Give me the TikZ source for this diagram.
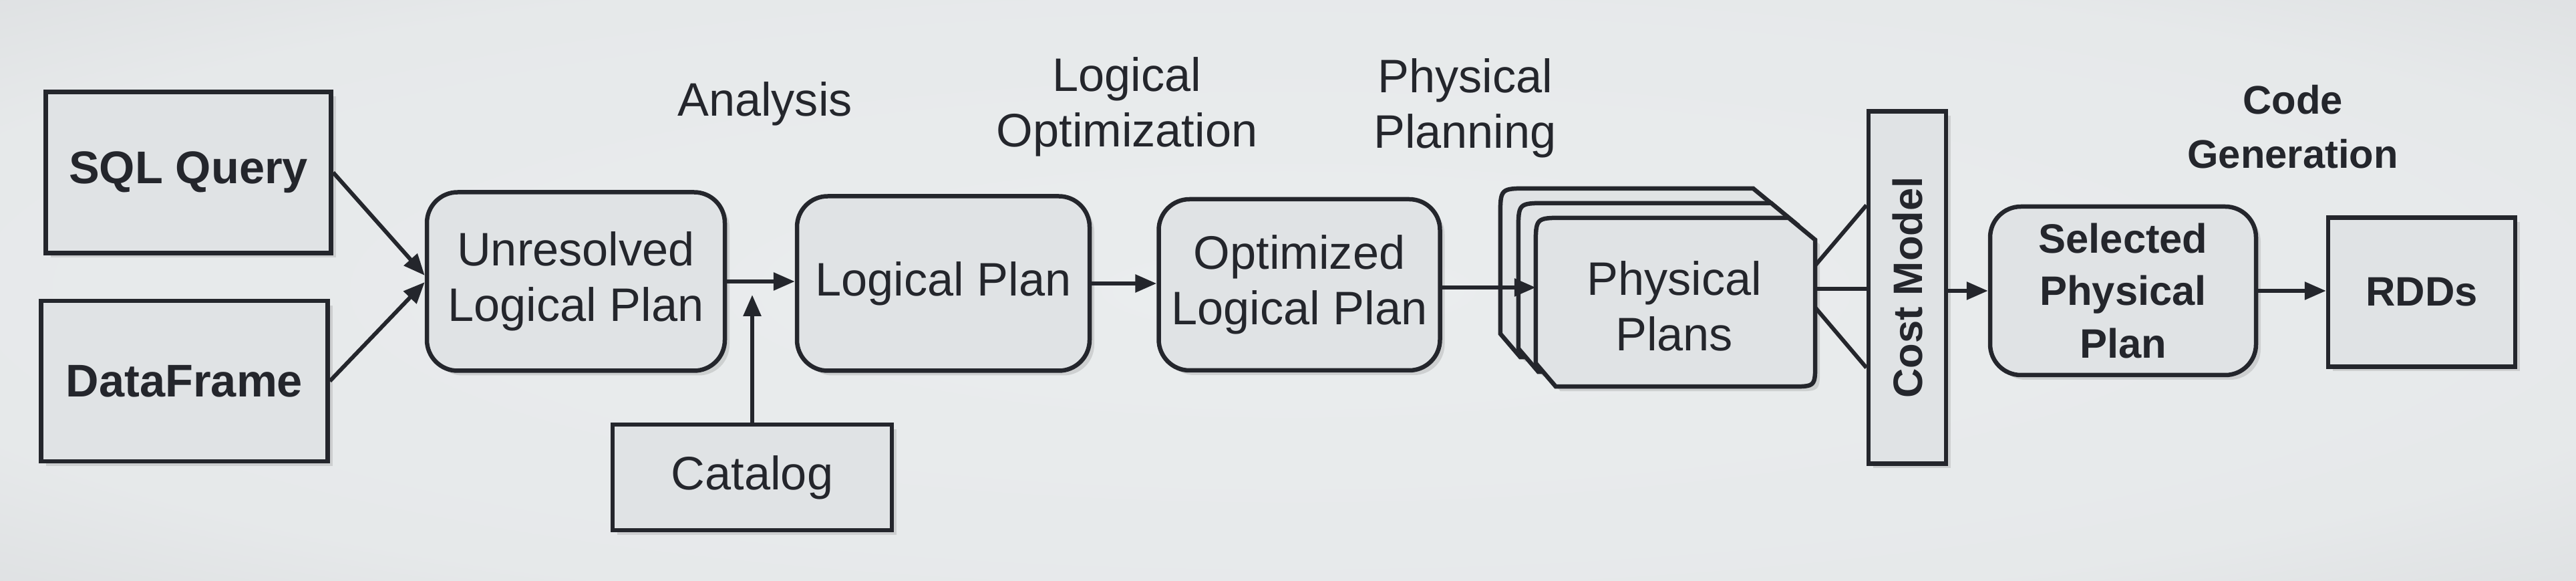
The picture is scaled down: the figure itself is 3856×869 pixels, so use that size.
\documentclass[tikz,border=0pt]{standalone}
\usepackage{fontspec}
\setmainfont{Liberation Sans}
\usetikzlibrary{calc, shadows, arrows.meta}

\definecolor{bgin}{RGB}{234,237,238}
\definecolor{bgout}{RGB}{186,186,190}
\definecolor{boxfill}{RGB}{224,227,229}
\definecolor{ink}{RGB}{36,38,44}
\pgfdeclareradialshading{vignette}{\pgfpoint{0bp}{0bp}}{color(0bp)=(bgin); color(28bp)=(bgin!92!bgout); color(50bp)=(bgin!50!bgout); color(71bp)=(bgout)}

\newcommand{\fsmid}{\fontsize{20}{23.6}\selectfont}
\newcommand{\fsleft}{\fontsize{19.5}{23}\selectfont\bfseries}
\newcommand{\fsright}{\fontsize{17.5}{22.4}\selectfont\bfseries}
\newcommand{\fscode}{\fontsize{17}{23}\selectfont\bfseries}
\newcommand{\stackshape}[1]{%
  \filldraw[stackline] ($(#1.north west)+(0,42)$) .. controls (#1.north west) .. ($(#1.north west)+(42,0)$)
    -- ($(#1.north east)+(-40,0)$) -- ($(#1.north east)+(0,33)$)
    -- ($(#1.south east)+(0,-36)$) .. controls (#1.south east) .. ($(#1.south east)+(-36,0)$)
    -- ($(#1.south west)+(30,0)$) -- ($(#1.south west)+(0,-35)$) -- cycle;}

\begin{document}
\begin{tikzpicture}[x=0.1mm, y=-0.1mm, color=ink,
  shadowed/.style={drop shadow={shadow xshift=0.7mm, shadow yshift=-0.7mm, opacity=0.25}},
  base/.style={draw=ink, fill=boxfill, line width=0.65mm, align=center, inner sep=0pt, shadowed},
  inbox/.style={base, rectangle},
  planbox/.style={base, rectangle, rounded corners=4.6mm},
  stackbox/.style={rectangle, inner sep=0pt, minimum width=41.7mm, minimum height=25.1mm},
  stackline/.style={draw=ink, fill=boxfill, line width=0.65mm, shadowed},
  stagelabel/.style={align=center, font=\fsmid},
  link/.style={draw=ink, line width=0.6mm},
  arr/.style={link, -{Triangle[length=3.2mm, width=2.6mm]}}]

  \shade[shading=vignette] (0,0) rectangle (3856,869);
  \useasboundingbox (0,0) rectangle (3856,869);

  \node[inbox, minimum width=42.7mm, minimum height=24.1mm, font=\fsleft] (sql) at (282,258) {SQL Query};
  \node[inbox, minimum width=42.9mm, minimum height=24mm, font=\fsleft] (df) at (276,570) {DataFrame};
  \node[planbox, minimum width=44.6mm, minimum height=26.7mm, font=\fsmid] (unres) at (862,421) {Unresolved\\Logical Plan};
  \node[inbox, minimum width=41.8mm, minimum height=15.8mm, font=\fsmid] (cat) at (1126,714) {Catalog};
  \node[planbox, minimum width=43.8mm, minimum height=26.1mm, font=\fsmid] (lp) at (1412,424) {Logical Plan};
  \node[planbox, minimum width=42.1mm, minimum height=25.6mm, font=\fsmid] (opt) at (1945,426) {Optimized\\Logical Plan};
  \node[stackbox] (ppback) at (2455,408) {};
  \node[stackbox] (ppmid) at (2482,430) {};
  \node[stackbox] (pp) at (2508,452) {};
  \stackshape{ppback}
  \stackshape{ppmid}
  \stackshape{pp}
  \node[align=center, font=\fsmid] (pplabel) at (2506,458) {Physical\\Plans};
  \node[inbox, minimum width=11.6mm, minimum height=52.7mm] (cost) at (2855,430) {\rotatebox{90}{\fsright Cost Model}};
  \node[planbox, minimum width=39.8mm, minimum height=25.2mm, font=\fsright] (sel) at (3178,435) {Selected\\Physical\\Plan};
  \node[inbox, minimum width=28mm, minimum height=22.3mm, font=\fsright] (rdd) at (3625,437) {RDDs};

  \node[stagelabel] (analysis) at (1145,155) {Analysis};
  \node[stagelabel] (logopt) at (1687,160) {Logical\\Optimization};
  \node[stagelabel] (physplan) at (2193,162) {Physical\\Planning};
  \node[stagelabel, font=\fscode] (codegen) at (3432,190) {Code\\Generation};

  \draw[arr] (sql.east) -- ($(unres.west)+(0,-9)$);
  \draw[arr] (df.east) -- ($(unres.west)+(0,1)$);
  \draw[arr] (unres.east) -- (unres.east -| lp.west);
  \coordinate (catin) at ($(cat.north |- unres.east)+(0,20)$);
  \draw[arr] (cat.north) -- (catin);
  \draw[arr] (lp.east) -- (lp.east -| opt.west);
  \draw[arr] ($(opt.east)+(0,4)$) -- ($(opt.east -| pp.west)+(0,4)$);
  \foreach \a/\b in {-55/-123, -20/2, 8/120}
    \draw[link] ($(pp.east)+(0,\a)$) -- ($(cost.west)+(0,\b)$);
  \draw[arr] (cost.east |- sel.west) -- (sel.west);
  \draw[arr] (sel.east) -- (sel.east -| rdd.west);
\end{tikzpicture}
\end{document}
